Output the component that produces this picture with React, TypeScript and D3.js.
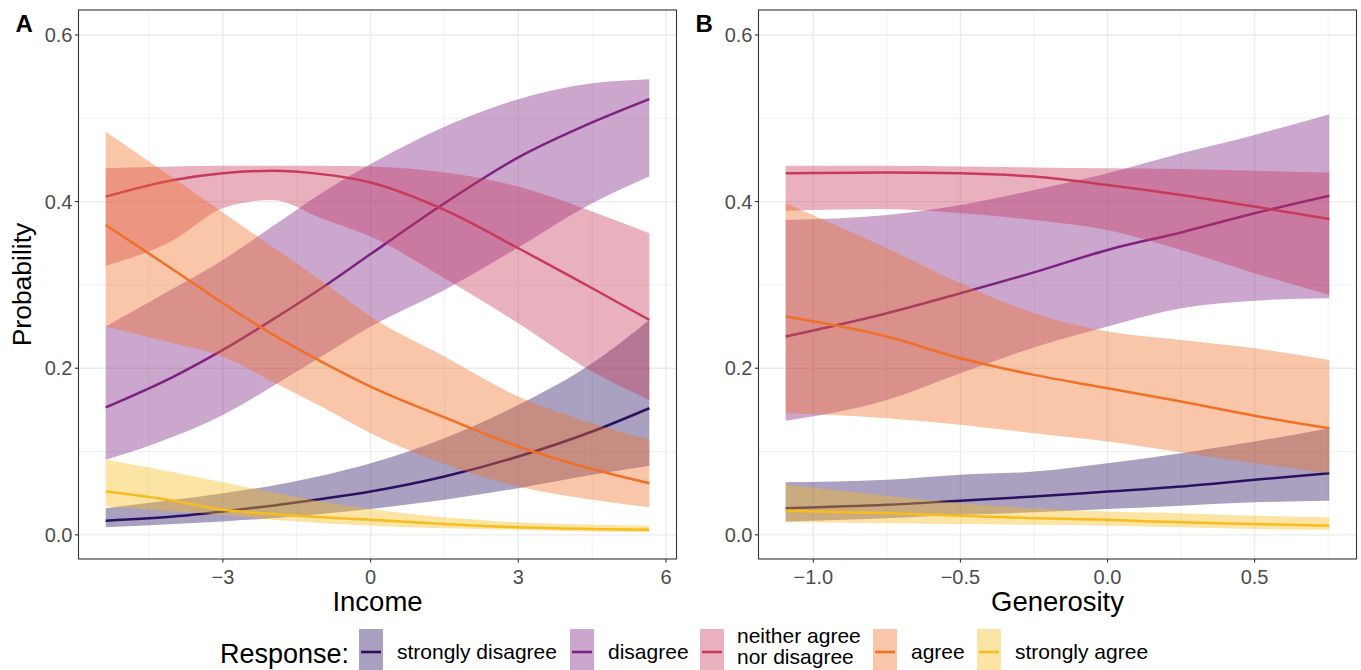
import React from "react";
import * as d3 from "d3";

// ---- data ----
const responses = ["strongly disagree", "disagree", "neither agree\nnor disagree", "agree", "strongly agree"];
const colors = ["#2B1260", "#7E2181", "#C83A5C", "#F17027", "#F8BC1E"];

const incomeX = [-5.38, -4, -3, -2, -1, 0, 1.5, 3, 4.5, 5.66];
const incomeEst = [
  [0.017, 0.022, 0.028, 0.035, 0.043, 0.052, 0.07, 0.094, 0.124, 0.152],
  [0.153, 0.19, 0.222, 0.258, 0.296, 0.337, 0.398, 0.453, 0.495, 0.523],
  [0.406, 0.426, 0.434, 0.437, 0.433, 0.423, 0.39, 0.344, 0.296, 0.258],
  [0.372, 0.318, 0.278, 0.241, 0.208, 0.178, 0.141, 0.106, 0.079, 0.062],
  [0.052, 0.041, 0.03, 0.025, 0.021, 0.018, 0.013, 0.009, 0.007, 0.006],
];
const incomeLo = [
  [0.009, 0.013, 0.016, 0.02, 0.025, 0.031, 0.042, 0.056, 0.072, 0.083],
  [0.09, 0.118, 0.144, 0.178, 0.214, 0.25, 0.294, 0.345, 0.398, 0.43],
  [0.323, 0.354, 0.392, 0.402, 0.38, 0.358, 0.308, 0.254, 0.196, 0.162],
  [0.25, 0.23, 0.214, 0.184, 0.154, 0.122, 0.085, 0.058, 0.042, 0.033],
  [0.034, 0.028, 0.024, 0.018, 0.014, 0.011, 0.008, 0.006, 0.004, 0.003],
];
const incomeHi = [
  [0.032, 0.042, 0.05, 0.059, 0.071, 0.086, 0.116, 0.156, 0.206, 0.258],
  [0.25, 0.296, 0.33, 0.37, 0.41, 0.445, 0.49, 0.523, 0.542, 0.547],
  [0.44, 0.442, 0.443, 0.443, 0.443, 0.442, 0.435, 0.418, 0.388, 0.362],
  [0.484, 0.428, 0.387, 0.346, 0.305, 0.262, 0.214, 0.166, 0.134, 0.114],
  [0.09, 0.075, 0.063, 0.051, 0.04, 0.031, 0.021, 0.015, 0.012, 0.011],
];

const generosityX = [-1.094, -0.75, -0.5, -0.25, 0, 0.25, 0.5, 0.754];
const generosityEst = [
  [0.032, 0.036, 0.041, 0.046, 0.052, 0.058, 0.066, 0.074],
  [0.238, 0.266, 0.29, 0.315, 0.342, 0.363, 0.386, 0.407],
  [0.434, 0.435, 0.434, 0.43, 0.42, 0.408, 0.394, 0.379],
  [0.262, 0.238, 0.212, 0.192, 0.176, 0.16, 0.143, 0.128],
  [0.029, 0.026, 0.023, 0.02, 0.018, 0.015, 0.013, 0.011],
];
const generosityLo = [
  [0.016, 0.02, 0.024, 0.027, 0.031, 0.035, 0.039, 0.041],
  [0.137, 0.162, 0.194, 0.225, 0.25, 0.272, 0.281, 0.284],
  [0.389, 0.391, 0.386, 0.378, 0.366, 0.342, 0.314, 0.288],
  [0.146, 0.14, 0.132, 0.122, 0.112, 0.099, 0.086, 0.074],
  [0.015, 0.014, 0.013, 0.012, 0.011, 0.009, 0.007, 0.006],
];
const generosityHi = [
  [0.063, 0.066, 0.072, 0.076, 0.086, 0.098, 0.112, 0.128],
  [0.378, 0.384, 0.396, 0.414, 0.434, 0.458, 0.48, 0.505],
  [0.443, 0.443, 0.442, 0.441, 0.44, 0.439, 0.437, 0.435],
  [0.398, 0.344, 0.302, 0.266, 0.244, 0.234, 0.224, 0.21],
  [0.06, 0.047, 0.038, 0.032, 0.028, 0.026, 0.023, 0.021],
];

const yTicks = [0, 0.2, 0.4, 0.6];
const yMinor = [0.1, 0.3, 0.5];
const incomeTicks = [-3, 0, 3, 6];
const incomeMinor = [-4.5, -1.5, 1.5, 4.5];
const generosityTicks = [-1, -0.5, 0, 0.5];
const generosityMinor = [-0.75, -0.25, 0.25, 0.75];

const FONT = "'Liberation Sans', Arial, Helvetica, sans-serif";
const W = 1361, H = 670;
const TOP = 10, BOTTOM = 559;
const legendKeyX = [359, 570, 700, 873, 977];

const fmtTick = (v: number, digits: number) => {
  const s = digits ? v.toFixed(digits) : String(v);
  return s.replace("-", "\u2212");
};

type PanelProps = {
  label: string;
  left: number;
  right: number;
  domain: [number, number];
  xs: number[];
  est: number[][];
  lo: number[][];
  hi: number[][];
  ticks: number[];
  minor: number[];
  digits: number;
  title: string;
};

const Panel = ({ label, left, right, domain, xs, est, lo, hi, ticks, minor, digits, title }: PanelProps) => {
  const x = d3.scaleLinear().domain(domain).range([left, right]);
  const y = d3.scaleLinear().domain([-0.029, 0.63]).range([BOTTOM, TOP]);

  const area = d3.area<number>()
    .x((_, i) => x(xs[i]))
    .curve(d3.curveMonotoneX);
  const line = d3.line<number>()
    .x((_, i) => x(xs[i]))
    .y((d) => y(d))
    .curve(d3.curveMonotoneX);

  return (
    <g>
      <rect x={left} y={TOP} width={right - left} height={BOTTOM - TOP} fill="#fff" />
      {/* grid */}
      {yMinor.map((t) => (
        <line key={"ym" + t} x1={left} x2={right} y1={y(t)} y2={y(t)} stroke="#EBEBEB" strokeWidth={0.7} />
      ))}
      {minor.map((t) => (
        <line key={"xm" + t} x1={x(t)} x2={x(t)} y1={TOP} y2={BOTTOM} stroke="#EBEBEB" strokeWidth={0.7} />
      ))}
      {yTicks.map((t) => (
        <line key={"y" + t} x1={left} x2={right} y1={y(t)} y2={y(t)} stroke="#EBEBEB" strokeWidth={1.4} />
      ))}
      {ticks.map((t) => (
        <line key={"x" + t} x1={x(t)} x2={x(t)} y1={TOP} y2={BOTTOM} stroke="#EBEBEB" strokeWidth={1.4} />
      ))}

      {/* ribbons + lines */}
      {responses.map((r, k) => {
        const a = area.y0((_, i) => y(lo[k][i])).y1((_, i) => y(hi[k][i]));
        return (
          <g key={r}>
            <path d={a(est[k]) || ""} fill={colors[k]} fillOpacity={0.4} stroke="none" />
            <path d={line(est[k]) || ""} fill="none" stroke={colors[k]} strokeWidth={2.5} />
          </g>
        );
      })}

      <rect x={left} y={TOP} width={right - left} height={BOTTOM - TOP} fill="none" stroke="#333" strokeWidth={1.1} />

      {/* y axis */}
      {yTicks.map((t) => (
        <g key={"yl" + t}>
          <line x1={left - 3.5} x2={left} y1={y(t)} y2={y(t)} stroke="#333" strokeWidth={1.1} />
          <text x={left - 6} y={y(t)} dy="0.36em" textAnchor="end" fontSize={20} fill="#4D4D4D" fontFamily={FONT}>
            {t.toFixed(1)}
          </text>
        </g>
      ))}
      {/* x axis */}
      {ticks.map((t) => (
        <g key={"xl" + t}>
          <line x1={x(t)} x2={x(t)} y1={BOTTOM} y2={BOTTOM + 3.5} stroke="#333" strokeWidth={1.1} />
          <text x={x(t)} y={BOTTOM + 25} textAnchor="middle" fontSize={20} fill="#4D4D4D" fontFamily={FONT}>
            {fmtTick(t, digits)}
          </text>
        </g>
      ))}
      <text x={(left + right) / 2} y={611} textAnchor="middle" fontSize={27.5} fill="#000" fontFamily={FONT}>
        {title}
      </text>
      <text x={left - 63} y={32} fontSize={24} fontWeight="bold" fill="#000" fontFamily={FONT}>
        {label}
      </text>
    </g>
  );
};

const Legend = () => (
  <g fontFamily={FONT}>
    <text x={220} y={663} fontSize={27} fill="#000">Response:</text>
    {responses.map((r, k) => {
      const kx = legendKeyX[k];
      const lines = r.split("\n");
      return (
        <g key={r}>
          <rect x={kx} y={629} width={24} height={46} fill={colors[k]} fillOpacity={0.4} />
          <line x1={kx + 2} x2={kx + 22} y1={652} y2={652} stroke={colors[k]} strokeWidth={2.6} />
          {lines.length === 1 ? (
            <text x={kx + 38} y={659} fontSize={21} fill="#000">{r}</text>
          ) : (
            lines.map((s, j) => (
              <text key={s} x={kx + 37} y={643 + j * 21} fontSize={21} fill="#000">{s}</text>
            ))
          )}
        </g>
      );
    })}
  </g>
);

export default function App() {
  return (
    <svg width={W} height={H} style={{ position: "absolute", left: 0, top: 0, background: "#fff" }}>
      <rect width={W} height={H} fill="#fff" />
      <Panel
        label="A"
        left={78.5}
        right={676.5}
        domain={[-5.932, 6.212]}
        xs={incomeX}
        est={incomeEst}
        lo={incomeLo}
        hi={incomeHi}
        ticks={incomeTicks}
        minor={incomeMinor}
        digits={0}
        title="Income"
      />
      <Panel
        label="B"
        left={758.5}
        right={1356.5}
        domain={[-1.1864, 0.8464]}
        xs={generosityX}
        est={generosityEst}
        lo={generosityLo}
        hi={generosityHi}
        ticks={generosityTicks}
        minor={generosityMinor}
        digits={1}
        title="Generosity"
      />
      <text
        transform="translate(31,284.5) rotate(-90)"
        textAnchor="middle"
        fontSize={26.5}
        fill="#000"
        fontFamily={FONT}
      >
        Probability
      </text>
      <Legend />
    </svg>
  );
}
